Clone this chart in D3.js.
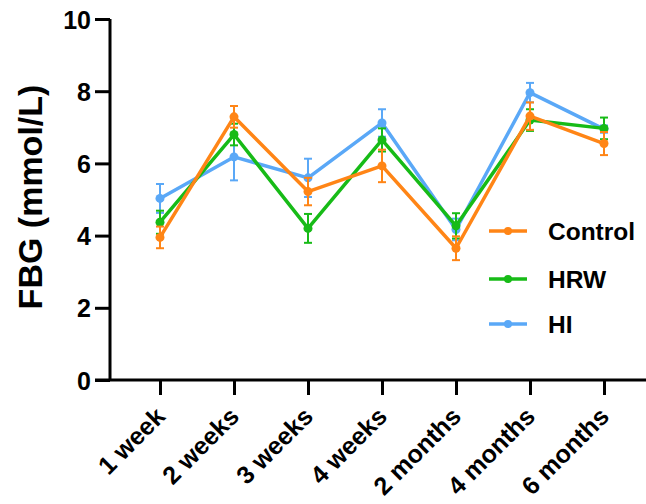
<!DOCTYPE html>
<html>
<head>
<meta charset="utf-8">
<script src="https://cdn.jsdelivr.net/npm/d3@7/dist/d3.min.js"></script>
<style>
  html, body { margin: 0; padding: 0; background: #fff; }
  svg { display: block; }
  text { font-family: "Liberation Sans", Arial, Helvetica, sans-serif; font-weight: bold; fill: #000; }
</style>
</head>
<body>
<svg id="chart" width="646" height="504"></svg>
<script>
const categories = ["1 week", "2 weeks", "3 weeks", "4 weeks", "2 months", "4 months", "6 months"];
const seriesNames = ["Control", "HRW", "HI"];
const controlMean = [3.95, 7.29, 5.22, 5.93, 3.65, 7.31, 6.55];
const controlErr  = [0.30, 0.30, 0.38, 0.45, 0.33, 0.38, 0.32];
const hrwMean     = [4.37, 6.80, 4.20, 6.65, 4.27, 7.20, 6.97];
const hrwErr      = [0.32, 0.30, 0.40, 0.32, 0.35, 0.30, 0.30];
const hiMean      = [5.03, 6.18, 5.60, 7.12, 4.17, 7.96, 6.95];
const hiErr       = [0.40, 0.65, 0.53, 0.38, 0.30, 0.27, 0.10];
const yTicks = [0, 2, 4, 6, 8, 10];
const colors = { "Control": "#FF8516", "HRW": "#17BB17", "HI": "#5AA8F7" };

const series = [
  { name: "HI", mean: hiMean, err: hiErr },
  { name: "HRW", mean: hrwMean, err: hrwErr },
  { name: "Control", mean: controlMean, err: controlErr }
];

const svg = d3.select("#chart");
const x = d3.scalePoint().domain(categories).range([160, 604]);
const y = d3.scaleLinear().domain([0, 10]).range([380, 19]);

// Y axis
const yAxis = svg.append("g").attr("transform", "translate(110,0)")
  .call(d3.axisLeft(y).tickValues(yTicks).tickSize(15).tickPadding(4).tickFormat(d3.format("d")));
yAxis.select(".domain").attr("stroke-width", 3).attr("d", "M0,19V380");
yAxis.selectAll(".tick line").attr("stroke-width", 3);
yAxis.selectAll(".tick text").style("font-size", "25px").attr("x", -19).attr("dy", "0.36em");

// X axis
const xAxis = svg.append("g").attr("transform", "translate(0,380)")
  .call(d3.axisBottom(x).tickSize(15).tickFormat(d => d));
xAxis.select(".domain").remove();
svg.append("line").attr("x1", 95).attr("x2", 646).attr("y1", 380).attr("y2", 380)
  .attr("stroke", "#000").attr("stroke-width", 3);
xAxis.selectAll(".tick line").attr("stroke-width", 3);
xAxis.selectAll(".tick text")
  .style("font-size", "25px")
  .attr("text-anchor", "end")
  .attr("y", 0).attr("dy", 0)
  .attr("transform", "translate(6,38) rotate(-45)");

// Series
const line = d3.line().x((d, i) => x(categories[i])).y(d => y(d));
series.forEach(s => {
  const g = svg.append("g");
  const c = colors[s.name];
  s.mean.forEach((m, i) => {
    const cx = x(categories[i]);
    const y1 = y(m + s.err[i]), y2 = y(m - s.err[i]);
    g.append("line").attr("x1", cx).attr("x2", cx).attr("y1", y1).attr("y2", y2)
      .attr("stroke", c).attr("stroke-width", 2);
    [y1, y2].forEach(yy => g.append("line").attr("x1", cx - 4).attr("x2", cx + 4)
      .attr("y1", yy).attr("y2", yy).attr("stroke", c).attr("stroke-width", 2));
  });
  g.append("path").datum(s.mean).attr("d", line).attr("fill", "none")
    .attr("stroke", c).attr("stroke-width", 3.5).attr("stroke-linejoin", "round");
  g.selectAll("circle").data(s.mean).enter().append("circle")
    .attr("cx", (d, i) => x(categories[i])).attr("cy", d => y(d)).attr("r", 4.5).attr("fill", c);
});

// Legend
const legendY = [231, 279, 324];
seriesNames.forEach((n, i) => {
  const g = svg.append("g").attr("transform", `translate(0,${legendY[i]})`);
  g.append("line").attr("x1", 489).attr("x2", 527).attr("stroke", colors[n]).attr("stroke-width", 3.5);
  g.append("circle").attr("cx", 508).attr("r", 4).attr("fill", colors[n]);
  g.append("text").attr("x", 548).attr("dy", "0.36em").style("font-size", "24.5px").text(n);
});

// Y title
svg.append("text")
  .attr("transform", "translate(42,197) rotate(-90)")
  .attr("text-anchor", "middle")
  .style("font-size", "34px")
  .text("FBG (mmol/L)");
</script>
</body>
</html>
